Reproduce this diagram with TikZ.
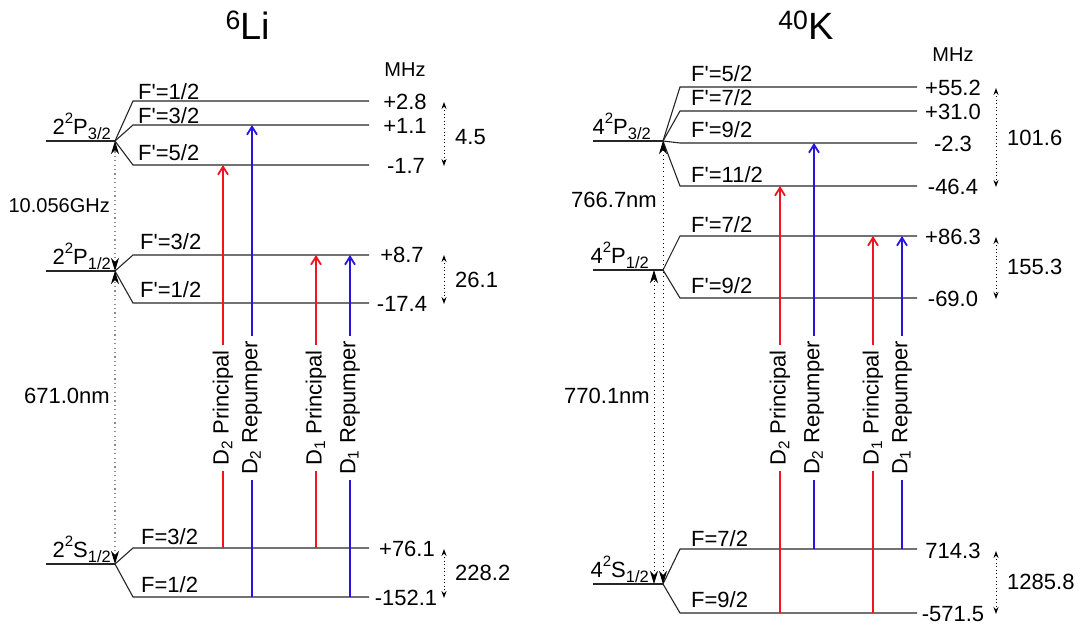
\documentclass[tikz,border=0pt]{standalone}
\usepackage{fontspec}
\setmainfont{Liberation Sans}
\usetikzlibrary{arrows.meta}
\definecolor{beamred}{RGB}{240,20,30}
\definecolor{beamblue}{RGB}{40,20,225}
\newcommand{\Fp}{F\textquotesingle}
\newcommand{\lsub}[1]{\raisebox{-0.45ex}{\fontsize{16.5}{17}\selectfont #1}}
\newcommand{\lsup}[1]{\raisebox{0.9ex}{\fontsize{15}{16}\selectfont #1}}

\begin{document}
\begin{tikzpicture}[x=1pt, y=-1pt,
        every node/.style={inner sep=0pt, font=\fontsize{22}{26}\selectfont},
        level/.style={line width=1.1pt, draw=black!85},
        flabel/.style={anchor=base west},
        value/.style={anchor=center},
        term/.style={anchor=base east},
        title/.style={anchor=base, font=\fontsize{38}{44}\selectfont},
        small/.style={font=\fontsize{20}{24}\selectfont},
        gap/.style={line width=1pt, dash pattern=on 1pt off 2.6pt, {Stealth[length=7pt,width=5pt]}-{Stealth[length=7pt,width=5pt]}},
        transition/.style={line width=1.1pt, dash pattern=on 1.1pt off 3.3pt, {Stealth[length=13pt,width=8pt,inset=4pt,color=black]}-{Stealth[length=13pt,width=8pt,inset=4pt,color=black]}},
        beam/.style={line width=1.8pt, -{Straight Barb[length=8pt,width=10pt]}},
        beamlabel/.style={rotate=90, fill=white, inner sep=5pt}
    ]
    \useasboundingbox (0,0) rectangle (1088,627);
    \coordinate (beamrow) at (0,408);

    % ---- 6Li ----
    \node[title] (liTitle) at (248,39) {\textsuperscript{6}Li};
    \node[small] (liMHz) at (405,70) {MHz};

    \coordinate (liP32) at (115,141);
    \coordinate (liP12) at (115,271);
    \coordinate (liS12) at (115,564);
    \draw[level] (liP32) -- ++(-69,0);
    \draw[level] (liP12) -- ++(-69,0);
    \draw[level] (liS12) -- ++(-69,0);
    \node[term] (liP32L) at (111,134) {2\lsup{2}P\lsub{3/2}};
    \node[term] (liP12L) at (111,264) {2\lsup{2}P\lsub{1/2}};
    \node[term] (liS12L) at (111,557) {2\lsup{2}S\lsub{1/2}};

    % hyperfine levels
    \draw[level] (liP32) -- (133,101) coordinate (liA) -- ++(236,0);
    \draw[level] (liP32) -- (133,125) coordinate (liB) -- ++(236,0);
    \draw[level] (liP32) -- (133,165) coordinate (liC) -- ++(236,0);
    \draw[level] (liP12) -- (133,255) coordinate (liD) -- ++(236,0);
    \draw[level] (liP12) -- (133,303) coordinate (liE) -- ++(236,0);
    \draw[level] (liS12) -- (133,548) coordinate (liF) -- ++(236,0);
    \draw[level] (liS12) -- (133,597) coordinate (liG) -- ++(236,0);

    \node[flabel] (liFA) at (138,99) {\Fp=1/2};
    \node[flabel] (liFB) at (138,123) {\Fp=3/2};
    \node[flabel] (liFC) at (138,160) {\Fp=5/2};
    \node[flabel] (liFD) at (140,249) {\Fp=3/2};
    \node[flabel] (liFE) at (140,297) {\Fp=1/2};
    \node[flabel] (liFF) at (141,544) {F=3/2};
    \node[flabel] (liFG) at (141,592) {F=1/2};

    \node[value] (liV1) at (405,102) {+2.8};
    \node[value] (liV2) at (405,126) {+1.1};
    \node[value] (liV3) at (406,166) {-1.7};
    \node[value] (liV4) at (402,255) {+8.7};
    \node[value] (liV5) at (402,304) {-17.4};
    \node[value] (liV6) at (407,549) {+76.1};
    \node[value] (liV7) at (406,598) {-152.1};

    % splittings
    \coordinate (liGapX) at (444,0);
    \draw[gap] (liGapX |- liV1) -- (liGapX |- liV3);
    \draw[gap] (liGapX |- liV4) -- (liGapX |- liV5);
    \draw[gap] (liGapX |- liV6) -- (liGapX |- liV7);
    \node[anchor=west] (liGap1) at (455,137) {4.5};
    \node[anchor=west] (liGap2) at (455,280) {26.1};
    \node[anchor=west] (liGap3) at (455,573) {228.2};

    % fine structure
    \draw[transition, draw=black!45] (liP12) -- (liP32);
    \draw[transition, draw=black!45] (liS12) -- (liP12);
    \node[small, anchor=east] (liGHz) at (110,206) {10.056GHz};
    \node[anchor=east] (liNm) at (110,396) {671.0nm};

    % lasers
    \coordinate (liX1) at (223,0);
    \coordinate (liX2) at (252,0);
    \coordinate (liX3) at (316,0);
    \coordinate (liX4) at (350,0);
    \draw[beam, beamred] (liX1 |- liF) -- (liX1 |- liC);
    \draw[beam, beamblue] (liX2 |- liG) -- (liX2 |- liB);
    \draw[beam, beamred] (liX3 |- liF) -- (liX3 |- liD);
    \draw[beam, beamblue] (liX4 |- liG) -- (liX4 |- liD);
    \node[beamlabel] (liL1) at (liX1 |- beamrow) {D\textsubscript{2} Principal};
    \node[beamlabel] (liL2) at (liX2 |- beamrow) {D\textsubscript{2} Repumper};
    \node[beamlabel] (liL3) at (liX3 |- beamrow) {D\textsubscript{1} Principal};
    \node[beamlabel] (liL4) at (liX4 |- beamrow) {D\textsubscript{1} Repumper};

    % ---- 40K ----
    \node[title] (kTitle) at (806,39) {\textsuperscript{40}K};
    \node[small] (kMHz) at (953,55) {MHz};

    \coordinate (kP32) at (663,141);
    \coordinate (kP12) at (663,270);
    \coordinate (kS12) at (663,584);
    \draw[level] (kP32) -- ++(-70,0);
    \draw[level] (kP12) -- ++(-70,0);
    \draw[level] (kS12) -- ++(-70,0);
    \node[term] (kP32L) at (651,134) {4\lsup{2}P\lsub{3/2}};
    \node[term] (kP12L) at (649,263) {4\lsup{2}P\lsub{1/2}};
    \node[term] (kS12L) at (649,577) {4\lsup{2}S\lsub{1/2}};

    % hyperfine levels
    \draw[level] (kP32) -- (680,87) coordinate (kA) -- ++(237,0);
    \draw[level] (kP32) -- (680,111) coordinate (kB) -- ++(237,0);
    \draw[level] (kP32) -- (680,143) coordinate (kC) -- ++(237,0);
    \draw[level] (kP32) -- (680,186) coordinate (kD) -- ++(237,0);
    \draw[level] (kP12) -- (680,236) coordinate (kE) -- ++(237,0);
    \draw[level] (kP12) -- (680,298) coordinate (kF) -- ++(237,0);
    \draw[level] (kS12) -- (680,549) coordinate (kG) -- ++(237,0);
    \draw[level] (kS12) -- (680,613) coordinate (kH) -- ++(237,0);

    \node[flabel] (kFA) at (691,81) {\Fp=5/2};
    \node[flabel] (kFB) at (691,105) {\Fp=7/2};
    \node[flabel] (kFC) at (691,137) {\Fp=9/2};
    \node[flabel] (kFD) at (691,182) {\Fp=11/2};
    \node[flabel] (kFE) at (691,232) {\Fp=7/2};
    \node[flabel] (kFF) at (691,293) {\Fp=9/2};
    \node[flabel] (kFG) at (691,546) {F=7/2};
    \node[flabel] (kFH) at (691,607) {F=9/2};

    \node[value] (kV1) at (953,88) {+55.2};
    \node[value] (kV2) at (953,112) {+31.0};
    \node[value] (kV3) at (953,144) {-2.3};
    \node[value] (kV4) at (953,187) {-46.4};
    \node[value] (kV5) at (953,237) {+86.3};
    \node[value] (kV6) at (953,299) {-69.0};
    \node[value] (kV7) at (953,551) {714.3};
    \node[value] (kV8) at (953,614) {-571.5};

    % splittings
    \coordinate (kGapX) at (996,0);
    \draw[gap] (kGapX |- kV1) -- (kGapX |- kV4);
    \draw[gap] (kGapX |- kV5) -- (kGapX |- kV6);
    \draw[gap] (kGapX |- kV7) -- (kGapX |- kV8);
    \node[anchor=west] (kGap1) at (1007,138) {101.6};
    \node[anchor=west] (kGap2) at (1007,267) {155.3};
    \node[anchor=west] (kGap3) at (1007,582) {1285.8};

    % fine structure
    \coordinate (kD1X) at (654,0);
    \draw[transition, line width=0.8pt, dash pattern=on 0.8pt off 3.4pt] (kS12) -- (kP32);
    \draw[transition, line width=0.8pt, dash pattern=on 0.8pt off 3.4pt] (kD1X |- kS12) -- (kD1X |- kP12);
    \node[anchor=east] (kNm2) at (657,200) {766.7nm};
    \node[anchor=east] (kNm1) at (650,396) {770.1nm};

    % lasers
    \coordinate (kX1) at (780,0);
    \coordinate (kX2) at (814,0);
    \coordinate (kX3) at (873,0);
    \coordinate (kX4) at (902,0);
    \draw[beam, beamred] (kX1 |- kH) -- (kX1 |- kD);
    \draw[beam, beamblue] (kX2 |- kG) -- (kX2 |- kC);
    \draw[beam, beamred] (kX3 |- kH) -- (kX3 |- kE);
    \draw[beam, beamblue] (kX4 |- kG) -- (kX4 |- kE);
    \node[beamlabel] (kL1) at (kX1 |- beamrow) {D\textsubscript{2} Principal};
    \node[beamlabel] (kL2) at (kX2 |- beamrow) {D\textsubscript{2} Repumper};
    \node[beamlabel] (kL3) at (kX3 |- beamrow) {D\textsubscript{1} Principal};
    \node[beamlabel] (kL4) at (kX4 |- beamrow) {D\textsubscript{1} Repumper};
\end{tikzpicture}
\end{document}
